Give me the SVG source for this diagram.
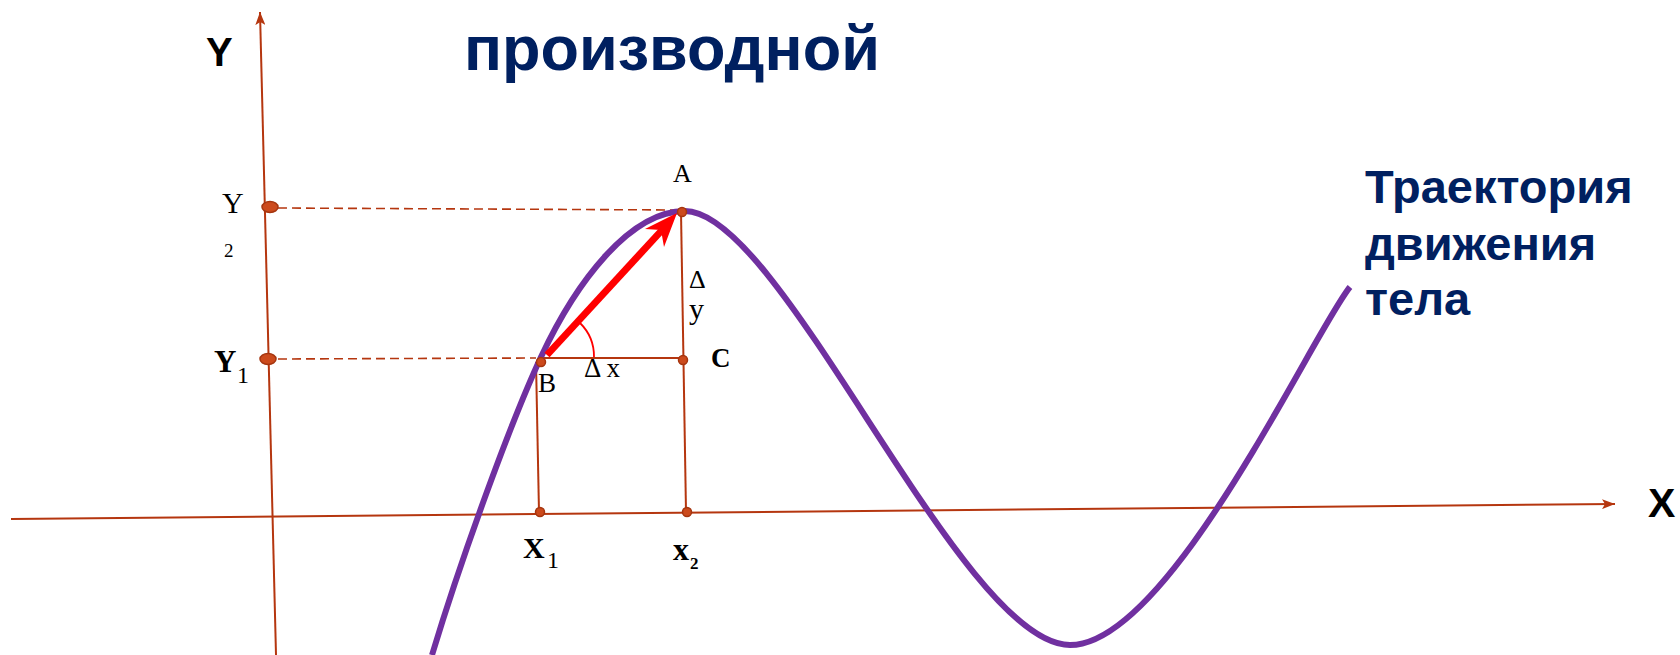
<svg xmlns="http://www.w3.org/2000/svg" width="1680" height="655" viewBox="0 0 1680 655">
<defs>
<style>
.ax{stroke:#b5360f;stroke-width:2;fill:none}
.ln{stroke:#b5360f;stroke-width:2;fill:none}
.ds{stroke:#b5360f;stroke-width:1.6;fill:none;stroke-dasharray:9 5}
.dot{fill:#cc4a1c;stroke:#a5350f;stroke-width:1.5}
.serif{font-family:"Liberation Serif","Times New Roman",serif;fill:#000}
.big{font-family:"Liberation Sans",Arial,sans-serif;font-weight:bold;fill:#000}
.blue{font-family:"Liberation Sans",Arial,sans-serif;font-weight:bold;fill:#002060}
</style>
<marker id="axhead" markerUnits="userSpaceOnUse" markerWidth="14" markerHeight="10" refX="13" refY="5" orient="auto">
<path d="M0,0 L13,5 L0,10 L3,5 z" fill="#b5360f"/>
</marker>
</defs>
<rect width="1680" height="655" fill="#fff"/>

<g id="connectors">
<line id="y-axis" class="ax" x1="276" y1="655" x2="260" y2="12" marker-end="url(#axhead)"/>
<line id="x-axis" class="ax" x1="11" y1="519" x2="1615" y2="504" marker-end="url(#axhead)"/>
<line class="ds" x1="278" y1="208" x2="677" y2="210"/>
<line class="ds" x1="278" y1="359" x2="536" y2="358"/>
<line class="ln" x1="541" y1="358" x2="683" y2="358"/>
<line class="ln" x1="536" y1="362" x2="539" y2="512"/>
<line class="ln" x1="681" y1="212" x2="686" y2="512"/>
</g>

<g id="trajectory">
<path fill="none" stroke="#7030a0" stroke-width="6" d="M432,655 C462,556 511,421.5 541,357 C576,282 630,211 685,211 C782,211 961,645 1070,645 C1170,645 1314,330.3 1350,287"/>
</g>

<g id="vector-BA">
<line x1="547" y1="355" x2="663" y2="229" stroke="#ff0000" stroke-width="7"/>
<path d="M677,213 L645,229 L661,230 L664,247 z" fill="#ff0000"/>
<path d="M580,323 A47,47 0 0 1 594,357" fill="none" stroke="#ff0000" stroke-width="1.8"/>
</g>

<g id="point-Y2">
<ellipse class="dot" cx="270" cy="207" rx="8" ry="5.5"/>
<text class="serif" x="222" y="213" font-size="30">Y</text>
<text class="serif" x="224" y="257" font-size="19">2</text>
</g>
<g id="point-Y1">
<ellipse class="dot" cx="268" cy="359" rx="8" ry="5.5"/>
<text class="serif" x="214" y="372" font-size="31" font-weight="bold">Y</text>
<text class="serif" x="237" y="383" font-size="24">1</text>
</g>
<g id="point-A">
<circle class="dot" cx="682" cy="212" r="4.5"/>
<text class="serif" x="673" y="182" font-size="26">A</text>
</g>
<g id="point-B">
<circle class="dot" cx="541" cy="362" r="4.5"/>
<text class="serif" x="538" y="392" font-size="27">B</text>
</g>
<g id="point-C">
<circle class="dot" cx="683" cy="360" r="4.5"/>
<text class="serif" x="711" y="367" font-size="27" font-weight="bold">C</text>
</g>
<g id="point-X1">
<circle class="dot" cx="540" cy="512" r="4.5"/>
<text class="serif" x="523" y="558" font-size="30" font-weight="bold">X</text>
<text class="serif" x="547" y="568" font-size="24">1</text>
</g>
<g id="point-X2">
<circle class="dot" cx="687" cy="512" r="4.5"/>
<text class="serif" x="673" y="560" font-size="32" font-weight="bold">x</text>
<text class="serif" x="690" y="569" font-size="17" font-weight="bold">2</text>
</g>

<g id="labels">
<text class="serif" x="584" y="377" font-size="27">Δ x</text>
<text class="serif" x="689" y="288" font-size="26">Δ</text>
<text class="serif" x="689" y="319" font-size="30">y</text>
<text class="big" x="206" y="66" font-size="40">Y</text>
<text class="big" x="1648" y="517" font-size="41">X</text>
<text class="blue" x="464" y="70" font-size="63">производной</text>
<text class="blue" x="1365" y="203" font-size="47">Траектория</text>
<text class="blue" x="1365" y="260" font-size="47">движения</text>
<text class="blue" x="1365" y="315" font-size="47">тела</text>
</g>
</svg>
